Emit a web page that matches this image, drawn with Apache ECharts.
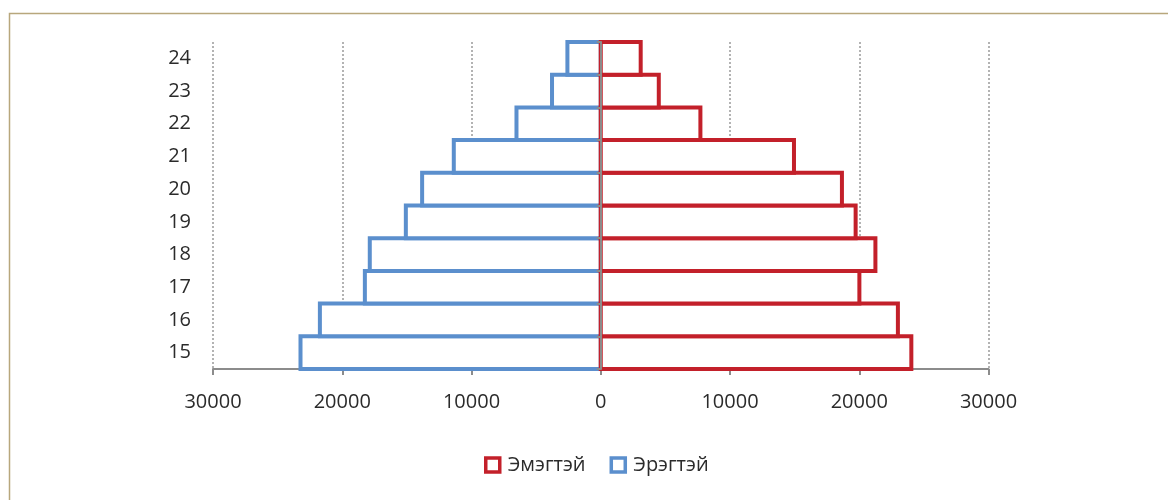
<!DOCTYPE html>
<html>
<head>
<meta charset="utf-8">
<script src="https://cdn.jsdelivr.net/npm/echarts@6/dist/echarts.min.js"></script>
<style>
html,body{margin:0;padding:0;background:#fff;}
#chart{width:1168px;height:500px;}
</style>
</head>
<body>
<div id="chart"></div>
<script>
// Age categories (bottom to top)
var ages = ['15', '16', '17', '18', '19', '20', '21', '22', '23', '24'];
// Female (Эмэгтэй), right side
var female = [24030, 22990, 20010, 21250, 19720, 18660, 14950, 7710, 4490, 3090];
// Male (Эрэгтэй), left side (negative values)
var male = [-23230, -21730, -18250, -17870, -15080, -13820, -11370, -6520, -3770, -2580];
// X axis range
var xMin = -30000, xMax = 30000, xStep = 10000;

var FONT = '"Open Sans", "Noto Sans", sans-serif';
var RED = '#c3202a', BLUE = '#5b8fcd';
var TEXT = '#2b2b2b';

function barRenderer(color) {
  return function (params, api) {
    var v = api.value(0), c = api.value(1);
    var p0 = api.coord([0, c]);
    var p1 = api.coord([v, c]);
    var h = api.size([0, 1])[1];
    var x = Math.min(p0[0], p1[0]);
    var w = Math.abs(p1[0] - p0[0]);
    return {
      type: 'rect',
      shape: {x: x, y: p0[1] - h / 2, width: w, height: h},
      style: {fill: '#fff', stroke: color, lineWidth: 4}
    };
  };
}
function pairs(vals) {
  return vals.map(function (v, i) { return [v, i]; });
}

var chart = echarts.init(document.getElementById('chart'), null, {renderer: 'canvas'});
chart.setOption({
  animation: false,
  backgroundColor: '#fff',
  graphic: [{
    type: 'rect', left: 7, top: 11, z: -10,
    shape: {width: 1300, height: 700},
    style: {fill: 'none', stroke: '#b8a77c', lineWidth: 1.5}
  }],
  grid: {left: 213, right: 179.5, top: 42, bottom: 131, containLabel: false},
  legend: {
    bottom: 20, left: 479,
    itemWidth: 14, itemHeight: 14, itemGap: 24,
    textStyle: {fontFamily: FONT, fontSize: 20, color: TEXT, padding: [0, 0, 0, 3]},
    data: [
      {name: 'Эмэгтэй', icon: 'rect', itemStyle: {color: '#fff', borderColor: RED, borderWidth: 3.5}},
      {name: 'Эрэгтэй', icon: 'rect', itemStyle: {color: '#fff', borderColor: BLUE, borderWidth: 3.5}}
    ]
  },
  xAxis: {
    type: 'value', min: xMin, max: xMax, interval: xStep,
    axisLine: {show: true, onZero: false, lineStyle: {color: '#8c8c8c', width: 2}},
    axisTick: {show: true, length: 6, lineStyle: {color: '#8c8c8c', width: 2}},
    axisLabel: {
      margin: 23, fontFamily: FONT, fontSize: 20, color: TEXT,
      formatter: function (v) { return String(Math.abs(v)); }
    },
    splitLine: {show: true, lineStyle: {color: '#9a9a9a', width: 1.5, type: [2, 2]}}
  },
  yAxis: [{
    type: 'category', data: ages, position: 'left',
    axisLine: {show: false, onZero: false},
    axisTick: {show: false},
    axisLabel: {margin: 22, fontFamily: FONT, fontSize: 20, color: TEXT},
    splitLine: {show: false}
  }, {
    type: 'category', data: ages, position: 'left', z: 5,
    axisLine: {show: true, onZero: true, lineStyle: {color: '#8c8c8c', width: 2}},
    axisTick: {show: true, length: 4, lineStyle: {color: '#8c8c8c', width: 2}},
    axisLabel: {show: false},
    splitLine: {show: false}
  }],
  series: [{
    name: 'Эрэгтэй', type: 'custom', yAxisIndex: 0,
    encode: {x: 0, y: 1},
    data: pairs(male),
    itemStyle: {color: '#fff', borderColor: BLUE},
    renderItem: barRenderer(BLUE)
  }, {
    name: 'Эмэгтэй', type: 'custom', yAxisIndex: 0,
    encode: {x: 0, y: 1},
    data: pairs(female),
    itemStyle: {color: '#fff', borderColor: RED},
    renderItem: barRenderer(RED)
  }]
});
</script>
</body>
</html>
